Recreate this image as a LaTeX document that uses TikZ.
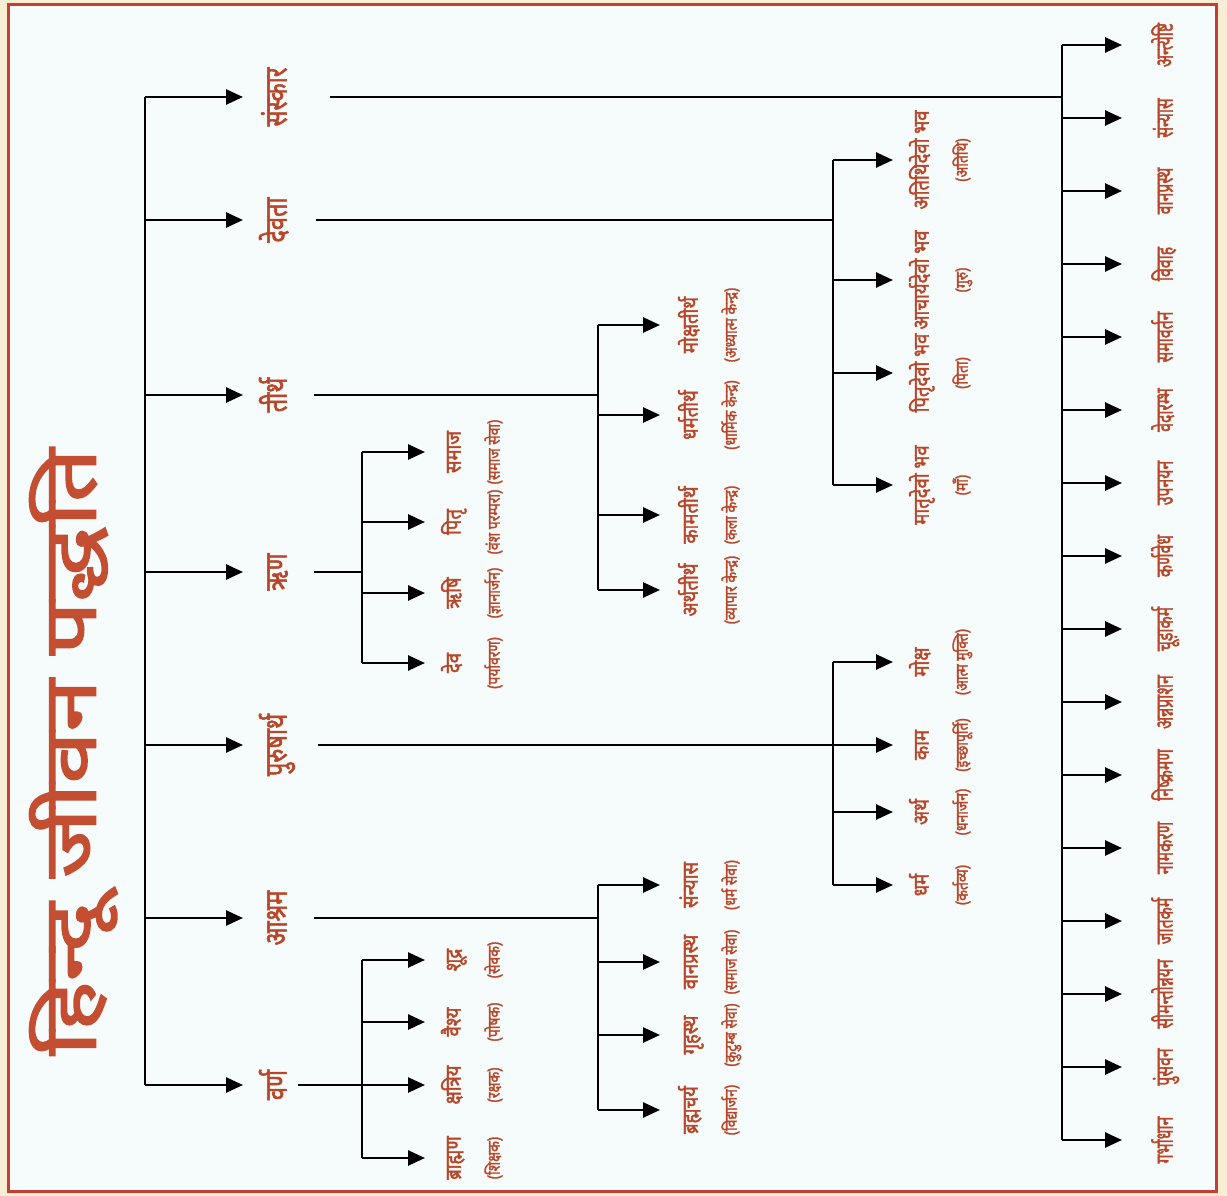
\documentclass[tikz,border=0pt]{standalone}
\usepackage{graphicx}
\usepackage{fontspec}
\setmainfont[Script=Devanagari,FakeBold=2]{Noto Sans}
\usetikzlibrary{arrows.meta}
\definecolor{txt}{RGB}{185,70,40}
\definecolor{titc}{RGB}{195,78,50}
\definecolor{framec}{RGB}{196,62,52}
\definecolor{cream}{RGB}{248,238,212}
\definecolor{paper}{RGB}{246,251,251}
\newcommand{\cnd}[2]{\scalebox{#1}[1]{#2}}
\begin{document}
\begin{tikzpicture}[x=1pt,y=-1pt,
  conn/.style={line width=2.6pt, black},
  arr/.style={conn, -{Triangle[length=17pt,width=15pt]}},
  titlebox/.style={rotate=90, anchor=mid, inner sep=0pt, text=titc, font=\fontsize{74}{80}\selectfont},
  brlabel/.style={rotate=90, anchor=mid, inner sep=0pt, text=txt, font=\fontsize{31}{33}\selectfont},
  leaflabel/.style={rotate=90, anchor=mid, inner sep=0pt, text=txt, font=\fontsize{22}{24}\selectfont},
  captlabel/.style={rotate=90, anchor=mid, inner sep=0pt, text=txt, font=\fontsize{17}{19}\selectfont},
  sklabel/.style={rotate=90, anchor=mid, inner sep=0pt, text=txt, font=\fontsize{24}{26}\selectfont}
]
\fill[cream] (0,0) rectangle (1227,1196);
\draw[framec, line width=3pt, fill=paper] (8,5) rectangle (1216,1191);

% title
\node[titlebox] (ttl) at (93,752) {\cnd{1.27}{हिन्दू जीवन पद्धति}};

% main trunk
\foreach \n/\y in {1/97,2/220,3/395,4/572,5/745,6/918,7/1085}{
  \coordinate (m\n) at (145,\y);
  \coordinate (mt\n) at (243,\y);
  \draw[arr] (m\n) -- (mt\n);
}
\draw[conn] (m1) -- (m7);

% branch labels
\node[brlabel] (b1) at (284,97) {\cnd{0.76}{संस्कार}};
\node[brlabel] (b2) at (284,220) {\cnd{0.76}{देवता}};
\node[brlabel] (b3) at (284,395) {\cnd{0.76}{तीर्थ}};
\node[brlabel] (b4) at (284,572) {\cnd{0.76}{ऋण}};
\node[brlabel] (b5) at (284,745) {\cnd{0.76}{पुरुषार्थ}};
\node[brlabel] (b6) at (284,918) {\cnd{0.76}{आश्रम}};
\node[brlabel] (b7) at (284,1085) {\cnd{0.76}{वर्ण}};

% branch lines
\coordinate (b1s) at (330,97);  \coordinate (j1) at (1062,97);
\coordinate (b2s) at (316,220); \coordinate (j2) at (833,220);
\coordinate (b3s) at (314,395); \coordinate (j3) at (598,395);
\coordinate (b4s) at (314,572); \coordinate (j4) at (362,572);
\coordinate (b5s) at (318,745); \coordinate (j5) at (833,745);
\coordinate (b6s) at (314,918); \coordinate (j6) at (598,918);
\coordinate (b7s) at (298,1085); \coordinate (j7) at (362,1085);
\foreach \n in {1,...,7}{ \draw[conn] (b\n s) -- (j\n); }

% ---- sanskar (16)
\foreach \t [count=\i] in {अन्त्येष्टि,संन्यास,वानप्रस्थ,विवाह,समावर्तन,वेदारम्भ,उपनयन,कर्णवेध,चूड़ाकर्म,अन्नप्राशन,निष्क्रमण,नामकरण,जातकर्म,सीमन्तोन्नयन,पुंसवन,गर्भाधान}{
  \pgfmathsetmacro{\yy}{45+73*(\i-1)}
  \coordinate (sa\i) at (1062,\yy);
  \coordinate (st\i) at (1122,\yy);
  \node[sklabel] (sl\i) at (1170,\yy) {\cnd{0.66}{\t}};
  \draw[arr] (sa\i) -- (st\i);
}
\draw[conn] (sa1) -- (sa16);

% devta
\foreach \y/\t/\c [count=\i] in {160/अतिथिदेवो भव/(अतिथि),280/आचार्यदेवो भव/(गुरु),373/पितृदेवो भव/(पिता),485/मातृदेवो भव/(माँ)}{
  \coordinate (da\i) at (833,\y);
  \coordinate (dt\i) at (893,\y);
  \node[leaflabel] (dl\i) at (926,\y) {\cnd{0.84}{\t}};
  \node[captlabel] (dc\i) at (965,\y) {\cnd{0.82}{\c}};
  \draw[arr] (da\i) -- (dt\i);
}
\draw[conn] (da1) -- (da4);

% purushartha
\foreach \y/\t/\c [count=\i] in {662/मोक्ष/(आत्म मुक्ति),745/काम/(इच्छापूर्ति),812/अर्थ/(धनार्जन),885/धर्म/(कर्तव्य)}{
  \coordinate (pa\i) at (833,\y);
  \coordinate (pt\i) at (893,\y);
  \node[leaflabel] (pl\i) at (926,\y) {\cnd{0.84}{\t}};
  \node[captlabel] (pc\i) at (965,\y) {\cnd{0.82}{\c}};
  \draw[arr] (pa\i) -- (pt\i);
}
\draw[conn] (pa1) -- (pa4);

% tirth
\foreach \y/\t/\c [count=\i] in {325/मोक्षतीर्थ/(अध्यात्म केन्द्र),415/धर्मतीर्थ/(धार्मिक केन्द्र),515/कामतीर्थ/(कला केन्द्र),590/अर्थतीर्थ/(व्यापार केन्द्र)}{
  \coordinate (ta\i) at (598,\y);
  \coordinate (tt\i) at (660,\y);
  \node[leaflabel] (tl\i) at (695,\y) {\cnd{0.84}{\t}};
  \node[captlabel] (tc\i) at (734,\y) {\cnd{0.82}{\c}};
  \draw[arr] (ta\i) -- (tt\i);
}
\draw[conn] (ta1) -- (ta4);

% ashram
\foreach \y/\t/\c [count=\i] in {885/संन्यास/(धर्म सेवा),962/वानप्रस्थ/(समाज सेवा),1035/गृहस्थ/(कुटुम्ब सेवा),1110/ब्रह्मचर्य/(विद्यार्जन)}{
  \coordinate (aa\i) at (598,\y);
  \coordinate (at\i) at (660,\y);
  \node[leaflabel] (al\i) at (695,\y) {\cnd{0.84}{\t}};
  \node[captlabel] (ac\i) at (734,\y) {\cnd{0.82}{\c}};
  \draw[arr] (aa\i) -- (at\i);
}
\draw[conn] (aa1) -- (aa4);

% rin
\foreach \y/\t/\c [count=\i] in {452/समाज/(समाज सेवा),522/पितृ/(वंश परम्परा),593/ऋषि/(ज्ञानार्जन),663/देव/(पर्यावरण)}{
  \coordinate (ra\i) at (362,\y);
  \coordinate (rt\i) at (425,\y);
  \node[leaflabel] (rl\i) at (458,\y) {\cnd{0.84}{\t}};
  \node[captlabel] (rc\i) at (497,\y) {\cnd{0.82}{\c}};
  \draw[arr] (ra\i) -- (rt\i);
}
\draw[conn] (ra1) -- (ra4);

% varna
\foreach \y/\t/\c [count=\i] in {960/शूद्र/(सेवक),1022/वैश्य/(पोषक),1085/क्षत्रिय/(रक्षक),1158/ब्राह्मण/(शिक्षक)}{
  \coordinate (va\i) at (362,\y);
  \coordinate (vt\i) at (425,\y);
  \node[leaflabel] (vl\i) at (458,\y) {\cnd{0.84}{\t}};
  \node[captlabel] (vc\i) at (497,\y) {\cnd{0.82}{\c}};
  \draw[arr] (va\i) -- (vt\i);
}
\draw[conn] (va1) -- (va4);
\end{tikzpicture}
\end{document}
